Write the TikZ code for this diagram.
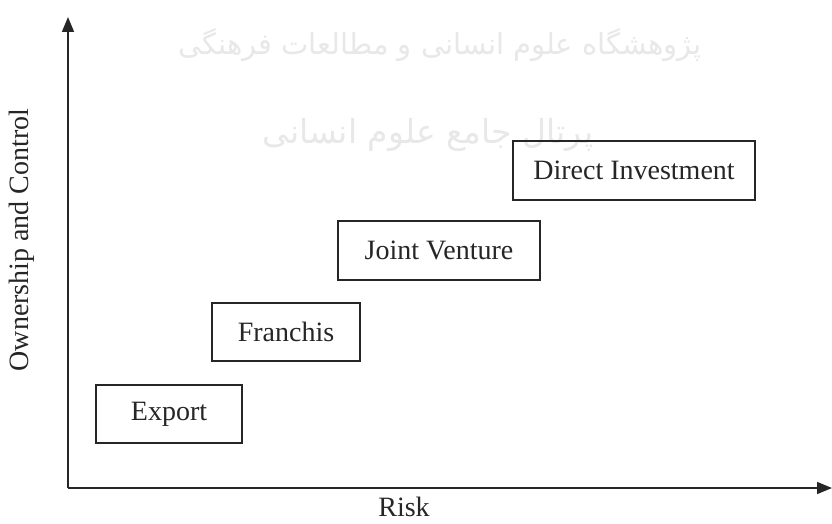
\documentclass[tikz,border=0pt]{standalone}
\usepackage{fontspec}
\setmainfont{Liberation Serif}
\newfontfamily\arabicfont[Script=Arabic]{DejaVu Sans}
\TeXXeTstate=1
\usetikzlibrary{arrows.meta}
\begin{document}
\begin{tikzpicture}[x=1pt,y=-1pt,
  box/.style={draw=black!85,line width=1.3pt,rectangle,inner sep=0pt,
    font=\fontsize{28}{34}\selectfont,text=black!85},
  axis/.style={line width=1.5pt,draw=black!85,-{Triangle[length=15pt,width=12pt]}},
  lbl/.style={font=\fontsize{28}{34}\selectfont,text=black!85},
  wm/.style={text=black!9}]
\useasboundingbox[fill=white] (0,0) rectangle (832,524);
% faint watermark
\node[wm,font=\arabicfont\fontsize{29}{34}\selectfont] (wm1) at (440,45) {\beginR پژوهشگاه علوم انسانی و مطالعات فرهنگی\endR};
\node[wm,font=\arabicfont\fontsize{33}{40}\selectfont] (wm2) at (428,135) {\beginR پرتال جامع علوم انسانی\endR};
% axes
\coordinate (O) at (68,488);
\coordinate (Ytop) at (68,17);
\coordinate (Xend) at (832,488);
\draw[axis] (O) -- (Ytop);
\draw[axis] (O) -- (Xend);
% boxes
\node[box,minimum width=146pt,minimum height=58pt] (export) at (169,414) {Export};
\node[box,minimum width=148pt,minimum height=58pt] (franchis) at (286,332) {Franchis};
\node[box,minimum width=202pt,minimum height=59pt] (joint) at (439,250.5) {Joint Venture};
\node[box,minimum width=242pt,minimum height=59pt] (direct) at (634,170.5) {Direct Investment};
% labels
\node[lbl,rotate=90] (ylab) at (22,240) {Ownership and Control};
\node[lbl,anchor=base,inner sep=0pt] (xlab) at (404,516) {Risk};
\end{tikzpicture}
\end{document}
